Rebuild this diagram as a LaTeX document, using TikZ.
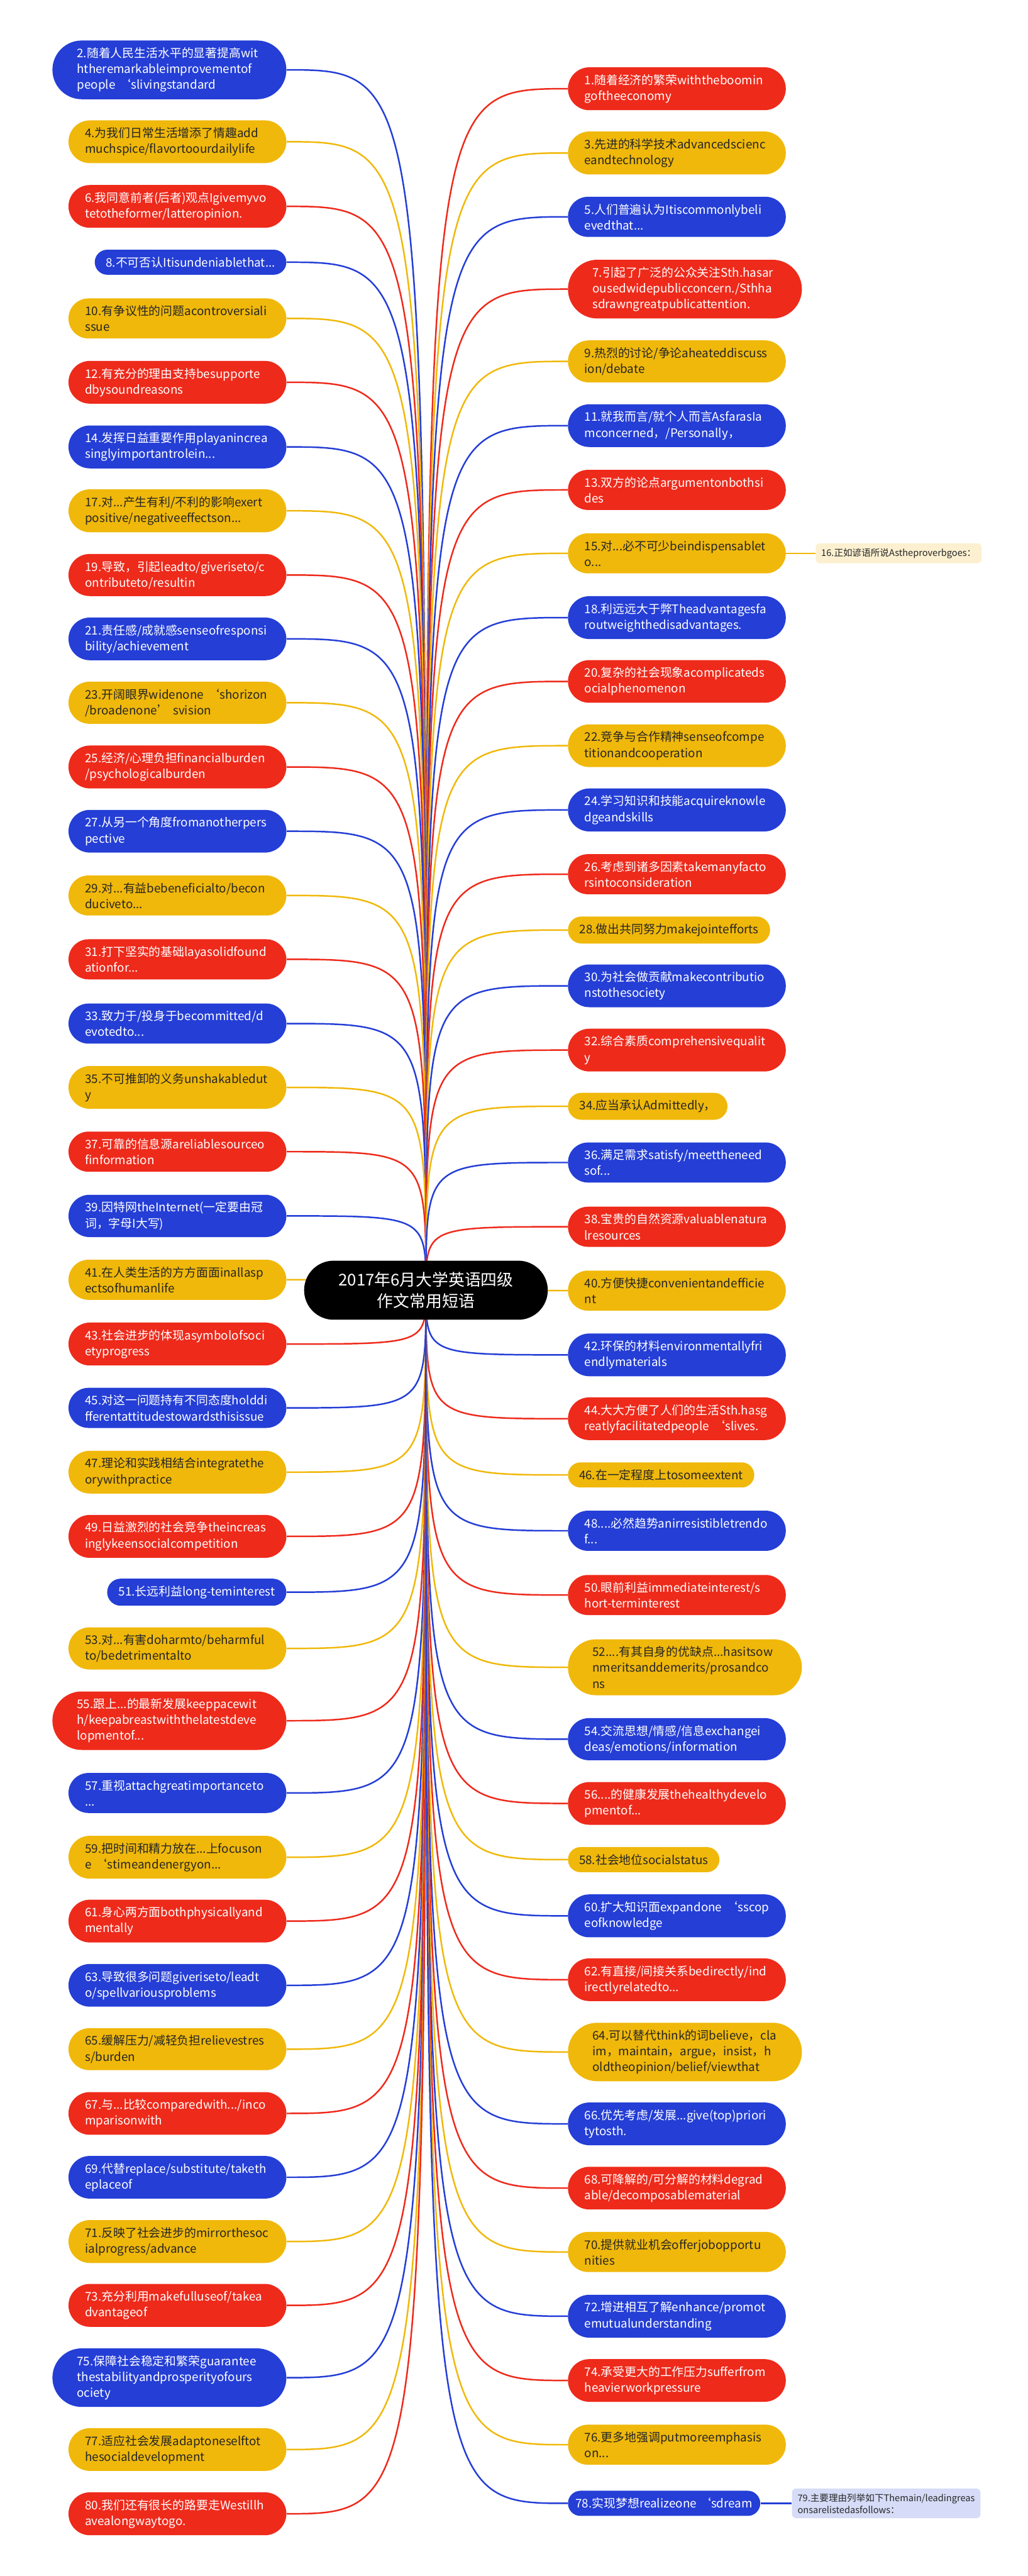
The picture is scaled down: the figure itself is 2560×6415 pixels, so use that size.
\documentclass[tikz,border=0pt]{standalone}
\usepackage{fontspec}
\setmainfont{Noto Sans CJK SC}
\usepackage{tikz}
\usetikzlibrary{shapes.misc,backgrounds}
\definecolor{MapRed}{RGB}{238,42,27}
\definecolor{MapBlue}{RGB}{36,62,214}
\definecolor{MapGold}{RGB}{240,184,10}
\definecolor{MapInk}{RGB}{38,38,38}
\definecolor{MapCream}{RGB}{252,240,208}
\definecolor{MapLilac}{RGB}{214,220,247}

\begin{document}
\begin{tikzpicture}[
x=0.01cm, y=-0.01cm,
cell/.style={
rounded rectangle,
inner xsep=4.5pt,
inner ysep=5pt,
align=left,
font=\fontsize{8.4}{11.2}\selectfont
},
wide/.style={text width=4.6cm,minimum width=5.74cm},
tall/.style={text width=4.6cm,minimum width=6.14cm},
solo/.style={inner xsep=7pt},
lhs/.style={anchor=east},
rhs/.style={anchor=west},
redcell/.style={cell,fill=MapRed,text=white},
bluecell/.style={cell,fill=MapBlue,text=white},
goldcell/.style={cell,fill=MapGold,text=MapInk},
notecell/.style={
rectangle,
rounded corners=3pt,
inner xsep=4pt,
inner ysep=3.5pt,
align=left,
anchor=west,
text=MapInk,
font=\fontsize{6.5}{8.5}\selectfont
},
link/.style={line width=1.1pt}
]
\useasboundingbox (0,0) rectangle (2560,6415);

\node[rounded rectangle,fill=black,text=white,align=center,
minimum width=6.3cm,minimum height=1.47cm,
font=\fontsize{11.5}{15}\selectfont] (root) at (1061,3213)
{2017年6月大学英语四级\\作文常用短语};

\node[bluecell,tall,lhs] (n2) at (714,174) {2.随着人民生活水平的显著提高wit\\htheremarkableimprovementof\\people~‘slivingstandard};
\node[goldcell,wide,lhs] (n4) at (714,353) {4.为我们日常生活增添了情趣add\\muchspice/flavortoourdailylife};
\node[redcell,wide,lhs] (n6) at (714,514) {6.我同意前者(后者)观点Igivemyvo\\tetotheformer/latteropinion.};
\node[bluecell,solo,lhs] (n8) at (714,653) {8.不可否认Itisundeniablethat...};
\node[goldcell,wide,lhs] (n10) at (714,793) {10.有争议性的问题acontroversiali\\ssue};
\node[redcell,wide,lhs] (n12) at (714,952) {12.有充分的理由支持besupporte\\dbysoundreasons};
\node[bluecell,wide,lhs] (n14) at (714,1113) {14.发挥日益重要作用playanincrea\\singlyimportantrolein...};
\node[goldcell,wide,lhs] (n17) at (714,1272) {17.对...产生有利/不利的影响exert\\positive/negativeeffectson...};
\node[redcell,wide,lhs] (n19) at (714,1432) {19.导致，引起leadto/giveriseto/c\\ontributeto/resultin};
\node[bluecell,wide,lhs] (n21) at (714,1591) {21.责任感/成就感senseofresponsi\\bility/achievement};
\node[goldcell,wide,lhs] (n23) at (714,1750) {23.开阔眼界widenone~‘shorizon\\/broadenone’~svision};
\node[redcell,wide,lhs] (n25) at (714,1910) {25.经济/心理负担financialburden\\/psychologicalburden};
\node[bluecell,wide,lhs] (n27) at (714,2070) {27.从另一个角度fromanotherpers\\pective};
\node[goldcell,wide,lhs] (n29) at (714,2230) {29.对...有益bebeneficialto/becon\\duciveto...};
\node[redcell,wide,lhs] (n31) at (714,2389) {31.打下坚实的基础layasolidfound\\ationfor...};
\node[bluecell,wide,lhs] (n33) at (714,2549) {33.致力于/投身于becommitted/d\\evotedto...};
\node[goldcell,wide,lhs] (n35) at (714,2708) {35.不可推卸的义务unshakabledut\\y};
\node[redcell,wide,lhs] (n37) at (714,2868) {37.可靠的信息源areliablesourceo\\finformation};
\node[bluecell,wide,lhs] (n39) at (714,3028) {39.因特网theInternet(一定要由冠\\词，字母I大写)};
\node[goldcell,wide,lhs] (n41) at (714,3187) {41.在人类生活的方方面面inallasp\\ectsofhumanlife};
\node[redcell,wide,lhs] (n43) at (714,3347) {43.社会进步的体现asymbolofsoci\\etyprogress};
\node[bluecell,wide,lhs] (n45) at (714,3506) {45.对这一问题持有不同态度holddi\\fferentattitudestowardsthisissue};
\node[goldcell,wide,lhs] (n47) at (714,3666) {47.理论和实践相结合integratethe\\orywithpractice};
\node[redcell,wide,lhs] (n49) at (714,3826) {49.日益激烈的社会竞争theincreas\\inglykeensocialcompetition};
\node[bluecell,solo,lhs] (n51) at (714,3965) {51.长远利益long-teminterest};
\node[goldcell,wide,lhs] (n53) at (714,4105) {53.对...有害doharmto/beharmful\\to/bedetrimentalto};
\node[redcell,tall,lhs] (n55) at (714,4285) {55.跟上...的最新发展keeppacewit\\h/keepabreastwiththelatestdeve\\lopmentof...};
\node[bluecell,wide,lhs] (n57) at (714,4465) {57.重视attachgreatimportanceto\\...};
\node[goldcell,wide,lhs] (n59) at (714,4625) {59.把时间和精力放在...上focuson\\e~‘stimeandenergyon...};
\node[redcell,wide,lhs] (n61) at (714,4784) {61.身心两方面bothphysicallyand\\mentally};
\node[bluecell,wide,lhs] (n63) at (714,4944) {63.导致很多问题giveriseto/leadt\\o/spellvariousproblems};
\node[goldcell,wide,lhs] (n65) at (714,5103) {65.缓解压力/减轻负担relievestres\\s/burden};
\node[redcell,wide,lhs] (n67) at (714,5263) {67.与...比较comparedwith.../inco\\mparisonwith};
\node[bluecell,wide,lhs] (n69) at (714,5422) {69.代替replace/substitute/taketh\\eplaceof};
\node[goldcell,wide,lhs] (n71) at (714,5582) {71.反映了社会进步的mirrorthesoc\\ialprogress/advance};
\node[redcell,wide,lhs] (n73) at (714,5741) {73.充分利用makefulluseof/takea\\dvantageof};
\node[bluecell,tall,lhs] (n75) at (714,5921) {75.保障社会稳定和繁荣guarantee\\thestabilityandprosperityofours\\ociety};
\node[goldcell,wide,lhs] (n77) at (714,6100) {77.适应社会发展adaptoneselftot\\hesocialdevelopment};
\node[redcell,wide,lhs] (n80) at (714,6260) {80.我们还有很长的路要走Westillh\\avealongwaytogo.};

\node[redcell,wide,rhs] (n1) at (1414,221) {1.随着经济的繁荣withtheboomin\\goftheeconomy};
\node[goldcell,wide,rhs] (n3) at (1414,381) {3.先进的科学技术advancedscienc\\eandtechnology};
\node[bluecell,wide,rhs] (n5) at (1414,540) {5.人们普遍认为Itiscommonlybeli\\evedthat...};
\node[redcell,tall,rhs] (n7) at (1414,720) {7.引起了广泛的公众关注Sth.hasar\\ousedwidepublicconcern./Sthha\\sdrawngreatpublicattention.};
\node[goldcell,wide,rhs] (n9) at (1414,900) {9.热烈的讨论/争论aheateddiscuss\\ion/debate};
\node[bluecell,wide,rhs] (n11) at (1414,1060) {11.就我而言/就个人而言AsfarasIa\\mconcerned，/Personally，};
\node[redcell,wide,rhs] (n13) at (1414,1220) {13.双方的论点argumentonbothsi\\des};
\node[goldcell,wide,rhs] (n15) at (1414,1378) {15.对...必不可少beindispensablet\\o...};
\node[notecell,fill=MapCream] (n16) at (2031,1378) {16.正如谚语所说Astheproverbgoes：};
\node[bluecell,wide,rhs] (n18) at (1414,1538) {18.利远远大于弊Theadvantagesfa\\routweighthedisadvantages.};
\node[redcell,wide,rhs] (n20) at (1414,1697) {20.复杂的社会现象acomplicateds\\ocialphenomenon};
\node[goldcell,wide,rhs] (n22) at (1414,1857) {22.竞争与合作精神senseofcompe\\titionandcooperation};
\node[bluecell,wide,rhs] (n24) at (1414,2017) {24.学习知识和技能acquireknowle\\dgeandskills};
\node[redcell,wide,rhs] (n26) at (1414,2177) {26.考虑到诸多因素takemanyfacto\\rsintoconsideration};
\node[goldcell,solo,rhs] (n28) at (1414,2316) {28.做出共同努力makejointefforts};
\node[bluecell,wide,rhs] (n30) at (1414,2455) {30.为社会做贡献makecontributio\\nstothesociety};
\node[redcell,wide,rhs] (n32) at (1414,2615) {32.综合素质comprehensivequalit\\y};
\node[goldcell,solo,rhs] (n34) at (1414,2755) {34.应当承认Admittedly，};
\node[bluecell,wide,rhs] (n36) at (1414,2895) {36.满足需求satisfy/meettheneed\\sof...};
\node[redcell,wide,rhs] (n38) at (1414,3055) {38.宝贵的自然资源valuablenatura\\lresources};
\node[goldcell,wide,rhs] (n40) at (1414,3214) {40.方便快捷convenientandefficie\\nt};
\node[bluecell,wide,rhs] (n42) at (1414,3374) {42.环保的材料environmentallyfri\\endlymaterials};
\node[redcell,wide,rhs] (n44) at (1414,3533) {44.大大方便了人们的生活Sth.hasg\\reatlyfacilitatedpeople~‘slives.};
\node[goldcell,solo,rhs] (n46) at (1414,3673) {46.在一定程度上tosomeextent};
\node[bluecell,wide,rhs] (n48) at (1414,3812) {48....必然趋势anirresistibletrendo\\f...};
\node[redcell,wide,rhs] (n50) at (1414,3972) {50.眼前利益immediateinterest/s\\hort-terminterest};
\node[goldcell,tall,rhs] (n52) at (1414,4152) {52....有其自身的优缺点...hasitsow\\nmeritsanddemerits/prosandco\\ns};
\node[bluecell,wide,rhs] (n54) at (1414,4331) {54.交流思想/情感/信息exchangei\\deas/emotions/information};
\node[redcell,wide,rhs] (n56) at (1414,4491) {56....的健康发展thehealthydevelo\\pmentof...};
\node[goldcell,solo,rhs] (n58) at (1414,4631) {58.社会地位socialstatus};
\node[bluecell,wide,rhs] (n60) at (1414,4771) {60.扩大知识面expandone~‘sscop\\eofknowledge};
\node[redcell,wide,rhs] (n62) at (1414,4930) {62.有直接/间接关系bedirectly/ind\\irectlyrelatedto...};
\node[goldcell,tall,rhs] (n64) at (1414,5110) {64.可以替代think的词believe，cla\\im，maintain，argue，insist，h\\oldtheopinion/belief/viewthat};
\node[bluecell,wide,rhs] (n66) at (1414,5289) {66.优先考虑/发展...give(top)priori\\tytosth.};
\node[redcell,wide,rhs] (n68) at (1414,5449) {68.可降解的/可分解的材料degrad\\able/decomposablematerial};
\node[goldcell,wide,rhs] (n70) at (1414,5608) {70.提供就业机会offerjobopportu\\nities};
\node[bluecell,wide,rhs] (n72) at (1414,5768) {72.增进相互了解enhance/promot\\emutualunderstanding};
\node[redcell,wide,rhs] (n74) at (1414,5928) {74.承受更大的工作压力sufferfrom\\heavierworkpressure};
\node[goldcell,wide,rhs] (n76) at (1414,6088) {76.更多地强调putmoreemphasis\\on...};
\node[bluecell,rhs] (n78) at (1414,6234) {78.实现梦想realizeone~‘sdream};
\node[notecell,fill=MapLilac] (n79) at (1972,6234) {79.主要理由列举如下Themain/leadingreas\\onsarelistedasfollows：};

\begin{scope}[on background layer]
\foreach \n/\c in {n2/MapBlue,n4/MapGold,n6/MapRed,n8/MapBlue,n10/MapGold,n12/MapRed,
n14/MapBlue,n17/MapGold,n19/MapRed,n21/MapBlue,n23/MapGold,n25/MapRed,n27/MapBlue,
n29/MapGold,n31/MapRed,n33/MapBlue,n35/MapGold,n37/MapRed,n39/MapBlue,n41/MapGold,
n43/MapRed,n45/MapBlue,n47/MapGold,n49/MapRed,n51/MapBlue,n53/MapGold,n55/MapRed,
n57/MapBlue,n59/MapGold,n61/MapRed,n63/MapBlue,n65/MapGold,n67/MapRed,n69/MapBlue,
n71/MapGold,n73/MapRed,n75/MapBlue,n77/MapGold,n80/MapRed}
  \draw[link,\c] (root.center) .. controls (root.center |- \n.east) .. (\n.east);
\foreach \n/\c in {n1/MapRed,n3/MapGold,n5/MapBlue,n7/MapRed,n9/MapGold,n11/MapBlue,
n13/MapRed,n15/MapGold,n18/MapBlue,n20/MapRed,n22/MapGold,n24/MapBlue,n26/MapRed,
n28/MapGold,n30/MapBlue,n32/MapRed,n34/MapGold,n36/MapBlue,n38/MapRed,n40/MapGold,
n42/MapBlue,n44/MapRed,n46/MapGold,n48/MapBlue,n50/MapRed,n52/MapGold,n54/MapBlue,
n56/MapRed,n58/MapGold,n60/MapBlue,n62/MapRed,n64/MapGold,n66/MapBlue,n68/MapRed,
n70/MapGold,n72/MapBlue,n74/MapRed,n76/MapGold,n78/MapBlue}
  \draw[link,\c] (root.center) .. controls (root.center |- \n.west) .. (\n.west);
\draw[link,MapGold] (n15.east) -- (n16.west);
\draw[link,MapBlue] (n78.east) -- (n79.west);
\end{scope}
\end{tikzpicture}
\end{document}
